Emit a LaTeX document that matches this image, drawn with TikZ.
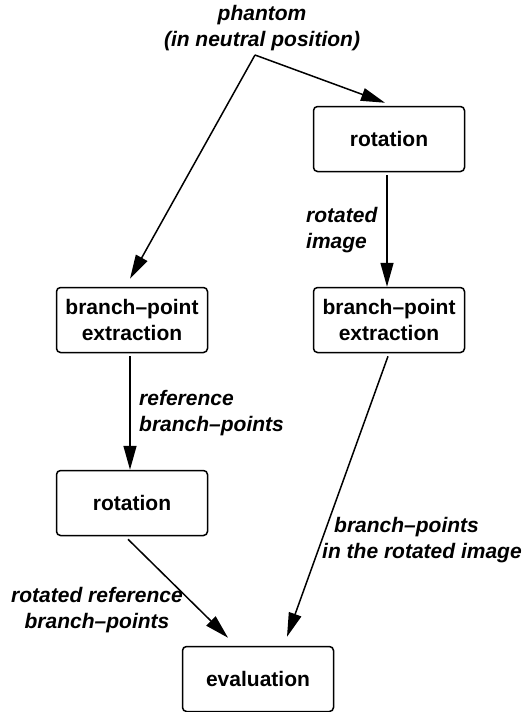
\documentclass[tikz,border=0pt]{standalone}
\usepackage{fontspec}
\setmainfont{Liberation Sans}
\usetikzlibrary{arrows.meta,calc}
\begin{document}
\begin{tikzpicture}[x=1pt,y=-1pt,
  box/.style={draw,line width=1.5pt,rounded corners=4pt,minimum width=151pt,minimum height=65pt,
    font=\fontsize{21}{26}\selectfont\bfseries,align=center,inner sep=0pt},
  lbl/.style={font=\fontsize{21}{26}\selectfont\bfseries\itshape,inner sep=0pt},
  arr/.style={line width=1.5pt,-{Triangle[length=24pt,width=13pt]}}]
\useasboundingbox (0,0) rectangle (522,712);
\node[lbl,align=center] (ph) at (262,28) {phantom\\(in neutral position)};
\coordinate (phs) at (255,55);
\node[box] (rotR) at (389,139) {rotation};
\node[box] (bpeR) at (389,320) {branch–point\\extraction};
\node[box] (bpeL) at (132,320) {branch–point\\extraction};
\node[box] (rotL) at (132,503) {rotation};
\node[box] (eval) at (258,679) {evaluation};
\draw[arr] (phs) -- ($(bpeL.north)+(-2,-8)$);
\draw[arr] (phs) -- ($(rotR.north)+(-4,-3)$);
\draw[arr] ($(rotR.south)+(-2,3)$) -- ($(bpeR.north)+(-2,0)$);
\draw[arr] ($(bpeL.south)+(-2,3)$) -- ($(rotL.north)+(-2,0)$);
\draw[arr] ($(bpeR.south)+(-1,3)$) -- ($(eval.north)+(29,-9)$);
\draw[arr] ($(rotL.south)+(-4,3)$) -- ($(eval.north)+(-30,-8)$);
\node[lbl,align=left,anchor=west] (l1) at (306,230) {rotated\\image};
\node[lbl,align=left,anchor=west] (l2) at (139,413) {reference\\branch–points};
\node[lbl,align=left,anchor=west] (l3) at (322,540) {\hspace{12pt}branch–points\\in the rotated image};
\node[lbl,align=center] (l4) at (97,610) {rotated reference\\branch–points};
\end{tikzpicture}
\end{document}
